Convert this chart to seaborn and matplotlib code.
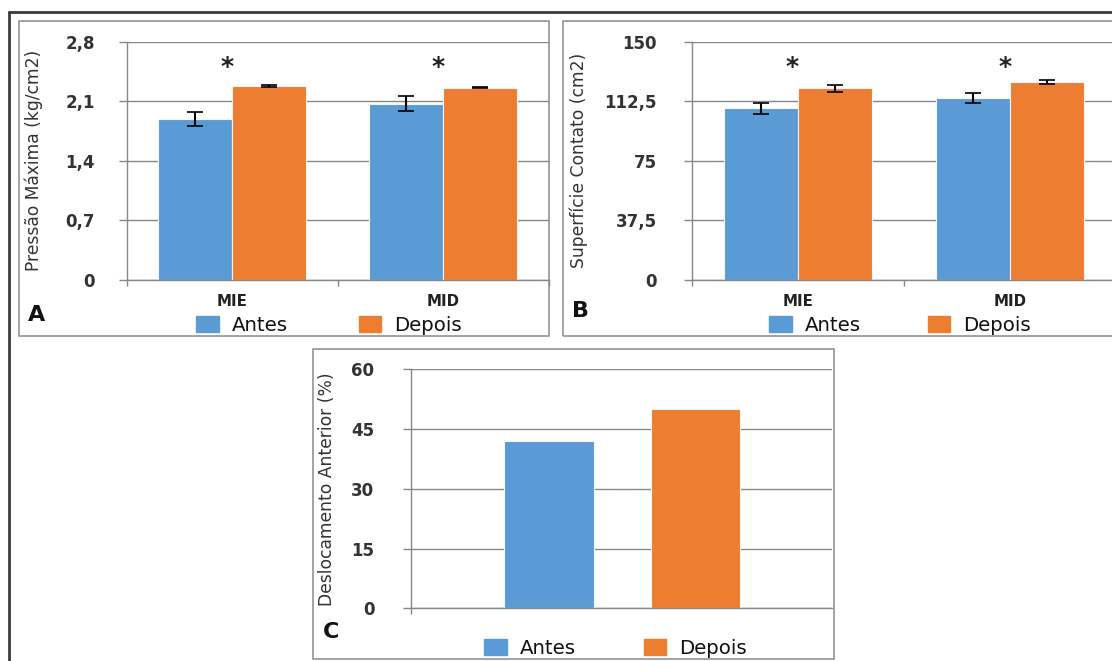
import matplotlib
matplotlib.use("Agg")
import matplotlib.pyplot as plt
import matplotlib.transforms as mtransforms
from matplotlib.patches import Rectangle, Patch
from matplotlib.lines import Line2D
import pandas as pd
import seaborn as sns

# ---------------- data ----------------
categories = ["MIE", "MID"]
groups = ["Antes", "Depois"]

pressao_antes = [1.89, 2.07]
pressao_antes_err = [0.08, 0.09]
pressao_depois = [2.28, 2.26]
pressao_depois_err = [0.008, 0.008]
pressao_ticks = [0, 0.7, 1.4, 2.1, 2.8]
pressao_ticklabels = ["0", "0,7", "1,4", "2,1", "2,8"]

superficie_antes = [108.0, 114.7]
superficie_antes_err = [3.5, 3.0]
superficie_depois = [120.6, 124.6]
superficie_depois_err = [2.0, 1.4]
superficie_ticks = [0, 37.5, 75, 112.5, 150]
superficie_ticklabels = ["0", "37,5", "75", "112,5", "150"]

deslocamento = [42, 50]
deslocamento_ticks = [0, 15, 30, 45, 60]
deslocamento_ticklabels = ["0", "15", "30", "45", "60"]

significance = ["*", "*"]

# ---------------- style ----------------
sns.set_style("white")
plt.rcParams["font.family"] = ["DejaVu Sans"]

BLUE = "#5B9BD5"
ORANGE = "#ED7D31"
GRID = "#878787"
TXT = "#333333"
W, H = 1112, 661

fig = plt.figure(figsize=(W / 100, H / 100), dpi=100)
fig.patch.set_facecolor("white")


def px_axes(l, t, r, b):
    return fig.add_axes([l / W, 1 - b / H, (r - l) / W, (b - t) / H])


def fig_box(l, t, r, b, color="#8a8a8a", lw=1.1):
    fig.patches.append(Rectangle((l / W, 1 - b / H), (r - l) / W, (b - t) / H,
                                 transform=fig.transFigure, fill=False,
                                 edgecolor=color, linewidth=lw, zorder=0))


def style_axes(ax, ticks, ticklabels, ylabel, label_x, pad):
    ax.set_ylim(ticks[0], ticks[-1])
    ax.set_yticks(ticks)
    ax.set_yticklabels(ticklabels, fontweight="bold")
    ax.grid(axis="y", color=GRID, linewidth=1.0, zorder=0)
    ax.grid(axis="x", visible=False)
    ax.set_axisbelow(True)
    for s in ["top", "right"]:
        ax.spines[s].set_visible(False)
    for s in ["left", "bottom"]:
        ax.spines[s].set_color(GRID)
        ax.spines[s].set_linewidth(1.0)
    ax.tick_params(axis="y", which="major", left=True, length=6, width=1.0,
                   color=GRID, pad=pad, labelsize=12, labelcolor=TXT)
    ax.tick_params(axis="x", which="major", length=0, pad=10,
                   labelsize=10.8, labelcolor="#222222")
    for lbl in ax.get_xticklabels():
        lbl.set_fontweight("semibold")
    ax.tick_params(axis="x", which="minor", bottom=True, length=4, width=1.0,
                   color=GRID, direction="out")
    ax.set_xlabel("")
    ax.set_ylabel(ylabel, fontsize=12.3, color=TXT)
    ax.yaxis.set_label_coords(label_x, 0.5)
    ax.yaxis.label.set_verticalalignment("center")


def add_legend(ax, x_px, y_px, colspace):
    handles = [Patch(facecolor=BLUE, edgecolor=BLUE, label=groups[0]),
               Patch(facecolor=ORANGE, edgecolor=ORANGE, label=groups[1])]
    ax.legend(handles=handles, ncol=2, loc="center left",
              bbox_to_anchor=(x_px / W, 1 - y_px / H),
              bbox_transform=fig.transFigure, frameon=False,
              fontsize=14.2, handlelength=1.15, handleheight=0.85,
              handletextpad=0.65, columnspacing=colspace,
              borderpad=0, borderaxespad=0, labelcolor="#111111")


def grouped_panel(ax, antes, depois, err_a, err_d):
    df = pd.DataFrame({
        "categoria": categories * 2,
        "grupo": [groups[0]] * len(categories) + [groups[1]] * len(categories),
        "valor": antes + depois,
    })
    sns.barplot(data=df, x="categoria", y="valor", hue="grupo",
                order=categories, hue_order=groups,
                palette=[BLUE, ORANGE], saturation=1, width=0.7, errorbar=None,
                edgecolor="#f6f6f6", linewidth=0.8, legend=False,
                ax=ax, zorder=2)
    for cont, vals, errs in zip(ax.containers, [antes, depois], [err_a, err_d]):
        for bar, v, e in zip(cont, vals, errs):
            xc = bar.get_x() + bar.get_width() / 2
            ax.errorbar(xc, v, yerr=e, fmt="none", ecolor="black",
                        elinewidth=1.5, capsize=5.5, capthick=1.2, zorder=4)
    ax.set_xlim(-0.5, len(categories) - 0.5)
    ax.set_xticks([i - 0.5 for i in range(len(categories) + 1)], minor=True)
    trans = mtransforms.blended_transform_factory(ax.transData, ax.transAxes)
    for i, s in enumerate(significance):
        ax.text(i - 0.025, 0.865, s, transform=trans, ha="center",
                va="baseline", fontsize=18, fontweight="bold", color="#222222")


# ---------------- outer frame ----------------
fig.add_artist(Line2D([9 / W, 1.0], [1 - 12 / H, 1 - 12 / H],
                      transform=fig.transFigure, color="#3c3c3c", linewidth=2))
fig.add_artist(Line2D([9 / W, 9 / W], [1 - 12 / H, 0],
                      transform=fig.transFigure, color="#3c3c3c", linewidth=2))

# panel boxes
fig_box(18.6, 20.7, 549, 335.5)
fig_box(563, 20.7, 1125, 336)
fig_box(313, 349.3, 834, 659)

# ---------------- Panel A ----------------
axA = px_axes(126.8, 41.7, 548.5, 280)
grouped_panel(axA, pressao_antes, pressao_depois, pressao_antes_err, pressao_depois_err)
style_axes(axA, pressao_ticks, pressao_ticklabels, "Pressão Máxima (kg/cm2)",
           (34 - 126.8) / (548.5 - 126.8), pad=17)
add_legend(axA, 196, 325.5, 3.6)
fig.text(37 / W, 1 - 315 / H, "A", ha="center", va="center",
         fontsize=16, fontweight="bold", color="#111111")

# ---------------- Panel B ----------------
axB = px_axes(691.8, 41.7, 1116, 280)
grouped_panel(axB, superficie_antes, superficie_depois,
              superficie_antes_err, superficie_depois_err)
style_axes(axB, superficie_ticks, superficie_ticklabels, "Superfície Contato (cm2)",
           (579 - 691.8) / (1116 - 691.8), pad=19)
add_legend(axB, 769, 325.5, 3.4)
fig.text(581 / W, 1 - 311 / H, "B", ha="center", va="center",
         fontsize=16, fontweight="bold", color="#111111")

# ---------------- Panel C ----------------
axC = px_axes(410.5, 369.3, 832, 608.3)
sns.barplot(x=groups, y=deslocamento, hue=groups, hue_order=groups,
            palette=[BLUE, ORANGE], saturation=1, width=0.61, errorbar=None,
            edgecolor="#f6f6f6", linewidth=0.8, legend=False, ax=axC, zorder=2)
axC.set_xlim(-0.942, 1.929)
style_axes(axC, deslocamento_ticks, deslocamento_ticklabels, "Deslocamento Anterior (%)",
           (327 - 410.5) / (832 - 410.5), pad=20)
axC.set_xticks([])
axC.set_xticks([-0.942], minor=True)
add_legend(axC, 484, 648, 3.45)
fig.text(331.5 / W, 1 - 632.5 / H, "C", ha="center", va="center",
         fontsize=16, fontweight="bold", color="#111111")

fig.savefig("out.png", dpi=100, facecolor="white")
